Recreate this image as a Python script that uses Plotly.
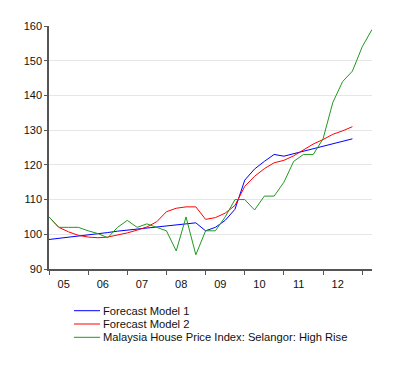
import plotly.graph_objects as go

# Quarterly index 2005Q1 .. 2013Q2
year_labels = ["05", "06", "07", "08", "09", "10", "11", "12"]

hpi = [105, 102, 102, 102, 101, 100.2, 99, 102,
       104, 102, 103, 102, 101, 95.2, 105, 94.1,
       101, 101, 105, 110, 110, 107, 111, 111,
       115, 121, 123, 123, 127.5, 138, 144, 147,
       154, 159]

model1 = [98.5, 98.8, 99.2, 99.5, 99.8, 100.2, 100.5, 100.9,
          101.2, 101.5, 101.9, 102.2, 102.6, 102.9, 103.1, 103.3,
          101.0, 102.0, 104.0, 107.2, 115.6, 118.8, 121.0, 123.0,
          122.5, 123.2, 124.0, 124.8, 125.5, 126.2, 126.9, 127.5]

model2 = [105, 102, 100.7, 99.7, 99.2, 99.0, 99.2, 99.7,
          100.4, 101.2, 102.1, 103.6, 106.5, 107.5, 107.9, 107.9,
          104.3, 104.8, 106.1, 108.3, 113.8, 116.7, 118.9, 120.6,
          121.3, 122.6, 124.2, 126.0, 127.3, 128.8, 129.8, 131.0]

series_names = ["Forecast Model 1", "Forecast Model 2",
                "Malaysia House Price Index: Selangor: High Rise"]
series_colors = ["#0000ff", "#ff0000", "#1f9a1f"]
series_values = [model1, model2, hpi]

font = "Liberation Sans, Arial, sans-serif"
W, H = 400, 370
OFF = 8  # default page body margin offsets the figure
ML, MT = 49 - OFF, 26 - OFF
MR = W - (372 - OFF)
MB = H - (269 - OFF)
pw, ph = W - ML - MR, H - MT - MB

fig = go.Figure()
for name, col, vals in zip(series_names, series_colors, series_values):
    fig.add_trace(go.Scatter(x=list(range(len(vals))), y=vals, mode="lines",
                             name=name, line=dict(color=col, width=1),
                             showlegend=False))
# invisible trace on label axis
fig.add_trace(go.Scatter(x=[0], y=[None], xaxis="x2", showlegend=False,
                         hoverinfo="skip", mode="lines"))

n = len(hpi) - 1
year_bounds = list(range(0, n, 4))
label_pos = [b + 1.5 for b in year_bounds]

# manual legend (below plot); positions given in screen pixels
def px_x(p):
    return (p - OFF - ML) / pw

def px_y(p):
    return (H - MB - (p - OFF)) / ph

shapes, annotations = [], []
for i, (name, col) in enumerate(zip(series_names, series_colors)):
    yy = px_y(310.7 + 13.3 * i)
    shapes.append(dict(type="line", xref="paper", yref="paper",
                       x0=px_x(74), x1=px_x(100), y0=yy, y1=yy,
                       line=dict(color=col, width=1)))
    annotations.append(dict(xref="paper", yref="paper", x=px_x(101), y=yy,
                            xanchor="left", yanchor="middle", showarrow=False,
                            text=name, font=dict(family=font, size=11.2, color="#111")))

fig.update_layout(
    width=W, height=H,
    margin=dict(l=ML, r=MR, t=MT, b=MB),
    paper_bgcolor="white", plot_bgcolor="white",
    font=dict(family=font, size=11, color="#111"),
    xaxis=dict(range=[0, n], tickvals=year_bounds, showticklabels=False,
               ticks="outside", ticklen=4, tickcolor="#555", automargin=False,
               showgrid=False, zeroline=False,
               showline=True, linecolor="#555", linewidth=1.5),
    xaxis2=dict(range=[0, n], overlaying="x", side="bottom", automargin=False,
                tickvals=label_pos, ticktext=year_labels,
                ticks="outside", ticklen=5, tickcolor="rgba(0,0,0,0)",
                showgrid=False, zeroline=False, showline=False,
                tickfont=dict(family=font, size=11, color="#111")),
    yaxis=dict(range=[90, 160], dtick=10, tick0=90, automargin=False,
               ticks="outside", ticklen=3, tickcolor="#555",
               showgrid=True, gridcolor="#e6e6e6", gridwidth=1,
               zeroline=False, showline=True, linecolor="#555", linewidth=1.5,
               tickfont=dict(family=font, size=11, color="#111")),
    shapes=shapes, annotations=annotations,
    showlegend=False,
)

fig.write_html("out.html")
